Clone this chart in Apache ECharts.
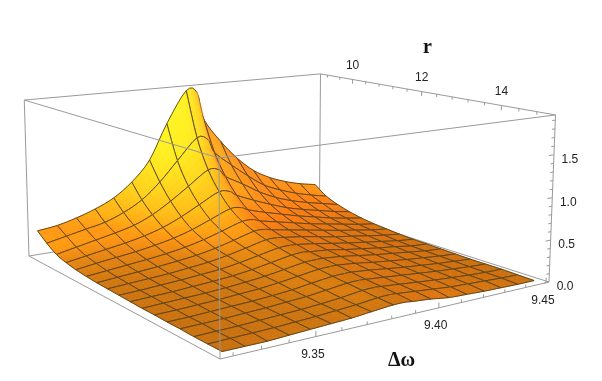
<!DOCTYPE html>
<html>
<head>
<meta charset="utf-8">
<style>html,body{margin:0;padding:0;background:#fff}#c{width:602px;height:381px}</style>
<script src="https://cdn.jsdelivr.net/npm/echarts@6/dist/echarts.min.js"></script>
</head>
<body>
<div id="c"></div>
<script>
// ---- data ----
const omegaValues = [9.318,9.326,9.334,9.342,9.350,9.358,9.366,9.374,9.383,9.388,9.391,9.399,9.407,9.415,9.423,9.431,9.439,9.447];
const omegaNoMesh = [9]; // data column that carries no mesh line
const rValues = [9.10,9.47,9.85,10.22,10.59,10.97,11.34,11.71,12.09,12.46,12.83,13.21,13.58,13.95,14.33,14.70,15.07];
const zRow00 = [.33,.36,.42,.50,.61,.785,1.045,1.50,1.91,1.87,1.51,1.18,.92,.72,.59,.50,.435,.39];
const zRow01 = [.23,.28,.33,.38,.47,.60,.80,1.05,1.32,1.28,1.10,.90,.72,.56,.46,.38,.32,.27];
const zRow02 = [.15,.20,.25,.30,.36,.46,.60,.76,.94,.92,.82,.69,.55,.44,.36,.30,.25,.20];
const zRow03 = [.11,.15,.19,.23,.28,.35,.45,.57,.70,.68,.62,.52,.43,.35,.29,.24,.19,.15];
const zRow04 = [.085,.12,.15,.18,.22,.27,.34,.43,.53,.52,.48,.41,.35,.29,.24,.19,.15,.115];
const zRow05 = [.07,.095,.12,.145,.175,.215,.27,.34,.42,.42,.39,.34,.29,.24,.20,.16,.12,.09];
const zRow06 = [.06,.08,.10,.12,.145,.175,.22,.28,.35,.35,.33,.29,.25,.21,.17,.135,.10,.075];
const zRow07 = [.055,.07,.085,.10,.125,.15,.19,.24,.30,.30,.29,.26,.22,.18,.15,.115,.085,.06];
const zRow08 = [.05,.06,.075,.09,.11,.13,.165,.21,.26,.265,.26,.23,.195,.16,.13,.10,.07,.05];
const zRow09 = [.045,.055,.065,.08,.095,.115,.145,.185,.23,.24,.23,.21,.175,.145,.115,.09,.06,.045];
const zRow10 = [.04,.05,.06,.07,.085,.105,.13,.165,.205,.21,.21,.19,.16,.13,.105,.08,.055,.04];
const zRow11 = [.04,.045,.055,.065,.08,.095,.12,.15,.185,.19,.19,.17,.14,.115,.09,.07,.05,.035];
const zRow12 = [.035,.04,.05,.06,.07,.085,.105,.135,.165,.17,.17,.15,.125,.10,.08,.06,.045,.03];
const zRow13 = [.035,.04,.045,.055,.065,.08,.095,.12,.15,.155,.15,.13,.11,.09,.07,.055,.04,.03];
const zRow14 = [.03,.035,.04,.05,.06,.07,.085,.105,.135,.14,.135,.115,.095,.075,.06,.045,.035,.03];
const zRow15 = [.03,.035,.04,.045,.055,.065,.08,.095,.12,.125,.12,.10,.08,.06,.05,.04,.03,.025];
const zRow16 = [.03,.03,.03,.04,.05,.06,.07,.09,.11,.11,.10,.08,.05,.04,.03,.025,.02,.02];
const zRows = [zRow00,zRow01,zRow02,zRow03,zRow04,zRow05,zRow06,zRow07,zRow08,zRow09,zRow10,zRow11,zRow12,zRow13,zRow14,zRow15,zRow16];

const omegaTickLabels = ['9.35','9.40','9.45'];
const rTickLabels = ['10','12','14'];
const zTickLabels = ['0.0','0.5','1.0','1.5'];
const omegaMinorTicks = [9.32,9.33,9.34,9.36,9.37,9.38,9.39,9.41,9.42,9.43,9.44];
const rMinorTicks = [9.2,9.6,10.4,10.8,11.2,11.6,12.4,12.8,13.2,13.6,14.4,14.8];
const zMinorTicks = [.1,.2,.3,.4,.6,.7,.8,.9,1.1,1.2,1.3,1.4,1.6,1.7,1.8,1.9];

// ---- plot range of the box ----
const omegaRange = [9.3155,9.4515];
const rRange = [8.97,15.2];
const zRange = [0,1.96];

// ---- view: where the box corners land on the page ----
const cornerF=[220,359,1], cornerG=[549,282,1], cornerE=[29,256,1], cornerD=[219,158,1], cornerC=[555,115,1], cornerA=[24,100,1];

function solve3(m,b){
  const a=m.map((r,i)=>r.concat(b[i]));
  for(let i=0;i<3;i++){
    let p=i; for(let k=i+1;k<3;k++) if(Math.abs(a[k][i])>Math.abs(a[p][i])) p=k;
    [a[i],a[p]]=[a[p],a[i]];
    for(let k=0;k<3;k++){ if(k===i) continue; const f=a[k][i]/a[i][i]; for(let l=i;l<4;l++) a[k][l]-=f*a[i][l]; }
  }
  return [a[0][3]/a[0][0],a[1][3]/a[1][1],a[2][3]/a[2][2]];
}
const col=(p,q,s)=>[0,1,2].map(k=>[p[k],q[k],-s[k]]);
const [ka,kc1]=solve3(col(cornerG,cornerD,cornerC),cornerF);
const [kb,kc2]=solve3(col(cornerE,cornerD,cornerA),cornerF);
const kc=(kc1+kc2)/2;
const P1=cornerG.map((v,k)=>ka*v-cornerF[k]);
const P2=cornerE.map((v,k)=>kb*v-cornerF[k]);
const P3=cornerD.map((v,k)=>kc*v-cornerF[k]);
const uOf=om=>(om-omegaRange[0])/(omegaRange[1]-omegaRange[0]);
const vOf=r=>(r-rRange[0])/(rRange[1]-rRange[0]);
function project(om,r,z){
  const u=uOf(om), v=1-vOf(r), w=(z-zRange[0])/(zRange[1]-zRange[0]);
  const h=[0,1,2].map(k=>u*P1[k]+v*P2[k]+w*P3[k]+cornerF[k]);
  return [h[0]/h[2],h[1]/h[2]];
}

// ---- smooth rendering mesh through the data nodes ----
const SUB=4;
const nC=omegaValues.length, nR=rValues.length;
function spline(arr,x){ // x in index space
  const k=Math.min(Math.floor(x),arr.length-2), t=x-k;
  const a=arr[Math.max(k-1,0)], b=arr[k], c=arr[k+1], d=arr[Math.min(k+2,arr.length-1)];
  return b+0.5*t*((c-a)+t*((2*a-5*b+4*c-d)+t*(3*(b-c)+d-a)));
}
const fI=(nC-1)*SUB+1, fJ=(nR-1)*SUB+1;
const fOm=[],fR=[];
for(let I=0;I<fI;I++) fOm.push(spline(omegaValues,I/SUB));
for(let J=0;J<fJ;J++) fR.push(spline(rValues,J/SUB));
const fineCols=[];
for(let I=0;I<fI;I++){
  const colVals=zRows.map(row=>spline(row,I/SUB));
  const out=[];
  for(let J=0;J<fJ;J++) out.push(Math.max(0.005,spline(colVals,J/SUB)));
  fineCols.push(out);
}
const fZ=(I,J)=>fineCols[I][J];
const fPt=[];
for(let J=0;J<fJ;J++){ const row=[]; for(let I=0;I<fI;I++) row.push(project(fOm[I],fR[J],fZ(I,J))); fPt.push(row); }

// ---- shading ----
const wScale=0.6/(zRange[1]-zRange[0]);
const fRGB=[];
for(let J=0;J<fJ;J++){
  const row=[];
  for(let I=0;I<fI;I++){
    const i0=Math.max(I-1,0), i1=Math.min(I+1,fI-1), j0=Math.max(J-1,0), j1=Math.min(J+1,fJ-1);
    const zu=(fZ(i1,J)-fZ(i0,J))*wScale/(uOf(fOm[i1])-uOf(fOm[i0]));
    const zv=(fZ(I,j1)-fZ(I,j0))*wScale/(vOf(fR[j1])-vOf(fR[j0]));
    const n=Math.hypot(zu,zv,1), nx=-zu/n, ny=-zv/n, nz=1/n;
    row.push([
      198+125*ny+65*Math.abs(nx),
      110+55*ny+80*(1-nz)-(nx>0?100*nx*nx:60*nx),
      14+30*(1-nz)
    ]);
  }
  fRGB.push(row);
}
function quadColor(I,J){
  const c=[0,1,2].map(k=>(fRGB[J][I][k]+fRGB[J][I+1][k]+fRGB[J+1][I][k]+fRGB[J+1][I+1][k])/4);
  return 'rgb('+c.map(x=>Math.max(0,Math.min(255,Math.round(x)))).join(',')+')';
}

// ---- marks ----
const cells=[];
for(let j=0;j<nR-1;j++) for(let i=nC-2;i>=0;i--) cells.push([i,j]);
const meshStyle={stroke:'#54401e',lineWidth:1,fill:null,opacity:0.9,lineJoin:'round'};
function renderCell(params,api){
  const i=api.value(0), j=api.value(1);
  const I0=i*SUB, J0=j*SUB;
  const children=[];
  for(let t=0;t<SUB;t++) for(let s=SUB-1;s>=0;s--){
    const I=I0+s,J=J0+t,c=quadColor(I,J);
    children.push({type:'polygon',shape:{points:[fPt[J][I],fPt[J][I+1],fPt[J+1][I+1],fPt[J+1][I]]},style:{fill:c,stroke:c,lineWidth:0.6}});
  }
  const edge=pts=>children.push({type:'polyline',shape:{points:pts},style:meshStyle});
  const rowLine=J=>{const p=[];for(let s=0;s<=SUB;s++)p.push(fPt[J][I0+s]);return p;};
  const colLine=I=>{const p=[];for(let t=0;t<=SUB;t++)p.push(fPt[J0+t][I]);return p;};
  edge(rowLine(J0)); edge(rowLine(J0+SUB));
  if(omegaNoMesh.indexOf(i)<0) edge(colLine(I0));
  if(omegaNoMesh.indexOf(i+1)<0) edge(colLine(I0+SUB));
  return {type:'group',children:children};
}

const oLo=omegaRange[0],oHi=omegaRange[1],rLo=rRange[0],rHi=rRange[1],zHi=zRange[1];
const backSegs=[
  [oLo,rLo,zHi,oHi,rLo,zHi],[oHi,rLo,0,oHi,rLo,zHi],[oLo,rLo,0,oHi,rLo,0],[oHi,rLo,0,oHi,rHi,0]
];
const frontSegs=[
  [oHi,rLo,zHi,oHi,rHi,zHi],[oHi,rHi,zHi,oLo,rHi,zHi],[oLo,rHi,zHi,oLo,rLo,zHi],[oLo,rLo,zHi,oLo,rLo,0],
  [oLo,rLo,0,oLo,rHi,0],[oLo,rHi,0,oHi,rHi,0],[oHi,rHi,0,oHi,rHi,zHi],[oLo,rHi,0,oLo,rHi,zHi]
];
const tickZ=zHi*0.03, tickZm=zHi*0.018;
omegaTickLabels.forEach(t=>frontSegs.push([+t,rHi,0,+t,rHi,tickZ]));
omegaMinorTicks.forEach(t=>frontSegs.push([t,rHi,0,t,rHi,tickZm]));
rTickLabels.forEach(t=>frontSegs.push([oHi,+t,zHi,oHi,+t,zHi-tickZ]));
rMinorTicks.forEach(t=>frontSegs.push([oHi,t,zHi,oHi,t,zHi-tickZm]));
zTickLabels.forEach(t=>frontSegs.push([oHi,rHi,+t,oHi-0.0025,rHi,+t]));
zMinorTicks.forEach(t=>frontSegs.push([oHi,rHi,t,oHi-0.0015,rHi,t]));
function renderSeg(params,api){
  const p=project(api.value(0),api.value(1),api.value(2));
  const q=project(api.value(3),api.value(4),api.value(5));
  return {type:'line',shape:{x1:p[0],y1:p[1],x2:q[0],y2:q[1]},style:{stroke:'#9a9a9a',lineWidth:1}};
}
const labelFont='12px "Liberation Sans", Arial, sans-serif';
const labels=[];
omegaTickLabels.forEach(t=>labels.push({text:t,at:[+t,rHi,0],off:[-3,18]}));
rTickLabels.forEach(t=>labels.push({text:t,at:[oHi,+t,zHi],off:[0,-14]}));
zTickLabels.forEach(t=>labels.push({text:t,at:[oHi,rHi,+t],off:[16,5]}));
function renderLabel(params,api){
  const l=labels[api.value(0)];
  const p=project(l.at[0],l.at[1],l.at[2]);
  return {type:'text',style:{text:l.text,x:p[0]+l.off[0],y:p[1]+l.off[1],font:labelFont,fill:'#222',textAlign:'center',textVerticalAlign:'middle'}};
}

const chart=echarts.init(document.getElementById('c'),null,{renderer:'canvas'});
chart.setOption({
  animation:false,
  backgroundColor:'#fff',
  series:[
    {type:'custom',coordinateSystem:'none',z:1,silent:true,data:backSegs,renderItem:renderSeg},
    {type:'custom',coordinateSystem:'none',z:2,silent:true,data:cells,renderItem:renderCell},
    {type:'custom',coordinateSystem:'none',z:3,silent:true,data:frontSegs,renderItem:renderSeg},
    {type:'custom',coordinateSystem:'none',z:4,silent:true,data:labels.map((l,i)=>[i]),renderItem:renderLabel}
  ],
  graphic:[
    {type:'text',left:423,top:38,z:5,style:{text:'r',font:'bold 20px "Liberation Serif", serif',fill:'#111'}},
    {type:'text',left:388,top:351,z:5,style:{text:'Δω',font:'bold 20px "Liberation Serif", serif',fill:'#111'}}
  ]
});
</script>
</body>
</html>
